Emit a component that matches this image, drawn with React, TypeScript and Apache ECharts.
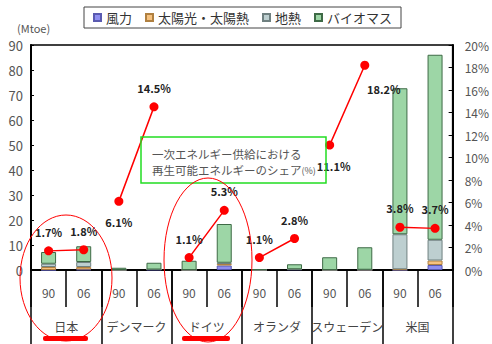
import React, { useEffect, useRef } from "react";
import * as echarts from "echarts";

const years = ["90", "06", "90", "06", "90", "06", "90", "06", "90", "06", "90", "06"];
const countries = ["日本", "デンマーク", "ドイツ", "オランダ", "スウェーデン", "米国"];
const wind = [0, 0.2, 0, 0.2, 0, 1.8, 0, 0.3, 0, 0.1, 0, 2.0];
const solar = [1.2, 1.0, 0, 0, 0, 0.6, 0, 0, 0, 0, 0.3, 1.8];
const geothermal = [1.3, 2.0, 0, 0, 0, 0.5, 0, 0, 0, 0, 14.0, 8.3];
const biomass = [4.7, 6.3, 0.9, 2.7, 3.7, 15.5, 0.4, 2.0, 5.1, 9.0, 58.4, 74.0];
const share = [1.7, 1.8, 6.1, 14.5, 1.1, 5.3, 1.1, 2.8, 11.1, 18.2, 3.8, 3.7];
const shareLabels = ["1.7%", "1.8%", "6.1%", "14.5%", "1.1%", "5.3%", "1.1%", "2.8%", "11.1%", "18.2%", "3.8%", "3.7%"];
const seriesNames = ["風力", "太陽光・太陽熱", "地熱", "バイオマス"];

const FONT = "'Noto Sans CJK JP', 'Noto Sans', sans-serif";

export default function App() {
  const ref = useRef<HTMLDivElement>(null);
  useEffect(() => {
    if (!ref.current) return;
    const chart = echarts.init(ref.current, undefined, { renderer: "svg" });

    const labelFor = (i: number) => {
      const base: any = {
        show: true,
        formatter: shareLabels[i],
        fontSize: 11,
        fontWeight: "bold",
        color: "#222",
        fontFamily: FONT,
        position: "top",
        distance: 9,
      };
      if (i === 2 || i === 8) {
        base.position = "bottom";
        base.distance = 11;
      }
      if (i === 8) {
        base.offset = [4, 0];
      }
      if (i === 9) {
        base.position = "inside";
        base.offset = [19, 24];
      }
      return base;
    };

    const lineData = (group: number) =>
      share.map((v, i) => {
        if (Math.floor(i / 2) % 2 !== group) return null;
        return { value: v, label: labelFor(i) };
      });

    const barColors = ["#8f8ff0", "#f7c27f", "#bdcfd0", "#9dd6a6"];
    const barBorders = ["#5a5ab0", "#b08040", "#6f8080", "#3e6a46"];
    const barData = [wind, solar, geothermal, biomass];

    const bars = barData.map((d, k) => ({
      name: seriesNames[k],
      type: "bar",
      stack: "total",
      barWidth: 15,
      xAxisIndex: 0,
      yAxisIndex: 0,
      data: d,
      itemStyle: { color: barColors[k], borderColor: barBorders[k], borderWidth: 1 },
    }));

    const lines = [0, 1].map((g) => ({
      name: "share" + g,
      type: "line",
      xAxisIndex: 0,
      yAxisIndex: 1,
      connectNulls: false,
      data: lineData(g),
      symbol: "circle",
      symbolSize: 9,
      lineStyle: { color: "#ff0000", width: 1.5 },
      itemStyle: { color: "#ff0000" },
      z: 5,
    }));

    chart.setOption({
      animation: false,
      textStyle: { fontFamily: FONT },
      legend: {
        data: seriesNames,
        left: 84,
        top: 7,
        icon: "rect",
        itemWidth: 7,
        itemHeight: 7,
        itemGap: 13,
        padding: [4, 9, 4, 9],
        borderColor: "#444",
        borderWidth: 1,
        textStyle: { fontSize: 13, color: "#333", fontFamily: FONT },
      },
      grid: {
        left: 31,
        right: 38,
        top: 45,
        bottom: 74,
        show: true,
        borderColor: "#000",
        borderWidth: 1.5,
      },
      xAxis: [
        {
          type: "category",
          data: years,
          position: "bottom",
          boundaryGap: true,
          axisLine: { show: true, lineStyle: { color: "#000", width: 2 } },
          axisTick: { show: true, interval: 0, length: 37, lineStyle: { color: "#000", width: 1.5 } },
          axisLabel: { interval: 0, margin: 16, fontSize: 12, color: "#555", fontFamily: FONT },
        },
        {
          type: "category",
          data: countries,
          position: "bottom",
          boundaryGap: true,
          axisLine: { show: false },
          axisTick: { show: true, interval: 0, length: 74, lineStyle: { color: "#000", width: 1.5 } },
          axisLabel: { interval: 0, margin: 50, fontSize: 12, color: "#444", fontFamily: FONT },
        },
      ],
      yAxis: [
        {
          type: "value",
          min: 0,
          max: 90,
          interval: 10,
          position: "left",
          axisLine: { show: true, lineStyle: { color: "#000", width: 2 } },
          axisTick: { show: true, inside: true, length: 3, lineStyle: { color: "#000" } },
          axisLabel: { fontSize: 13, color: "#555", margin: 8, fontFamily: FONT },
          splitLine: { show: false },
        },
        {
          type: "value",
          min: 0,
          max: 20,
          interval: 2,
          position: "right",
          axisLine: { show: true, lineStyle: { color: "#000", width: 2 } },
          axisTick: { show: true, inside: true, length: 4, lineStyle: { color: "#000" } },
          axisLabel: { fontSize: 12, color: "#555", margin: 12, formatter: "{value}%", fontFamily: FONT },
          splitLine: { show: false },
        },
      ],
      graphic: [
        {
          type: "text",
          left: 17,
          top: 22,
          style: { text: "(Mtoe)", fontSize: 11, fill: "#555", fontFamily: FONT },
        },
        {
          type: "rect",
          shape: { x: 141, y: 137, width: 185, height: 46 },
          style: { fill: "rgba(255,255,255,0)", stroke: "#22dd22", lineWidth: 1.5 },
          z: 10,
        },
        {
          type: "text",
          x: 152,
          y: 146,
          style: {
            text: "一次エネルギー供給における\n再生可能エネルギーのシェア{s|(%)}",
            fontSize: 11.5,
            lineHeight: 16,
            fill: "#555",
            fontFamily: FONT,
            rich: { s: { fontSize: 9, fill: "#555", fontFamily: FONT } },
          },
          z: 10,
        },
        {
          type: "ellipse",
          shape: { cx: 66, cy: 278, rx: 46, ry: 63 },
          style: { fill: "none", stroke: "#ff0000", lineWidth: 1 },
          z: 20,
        },
        {
          type: "ellipse",
          shape: { cx: 208, cy: 260, rx: 44, ry: 82 },
          style: { fill: "none", stroke: "#ff0000", lineWidth: 1 },
          z: 20,
        },
        {
          type: "rect",
          shape: { x: 43, y: 336, width: 45, height: 5, r: 2 },
          style: { fill: "#ff0000" },
          z: 20,
        },
        {
          type: "rect",
          shape: { x: 182, y: 336, width: 48, height: 5, r: 2 },
          style: { fill: "#ff0000" },
          z: 20,
        },
      ],
      series: [...bars, ...lines],
    });
    return () => chart.dispose();
  }, []);
  return <div ref={ref} style={{ width: 492, height: 344, position: "absolute", left: 0, top: 0 }} />;
}
